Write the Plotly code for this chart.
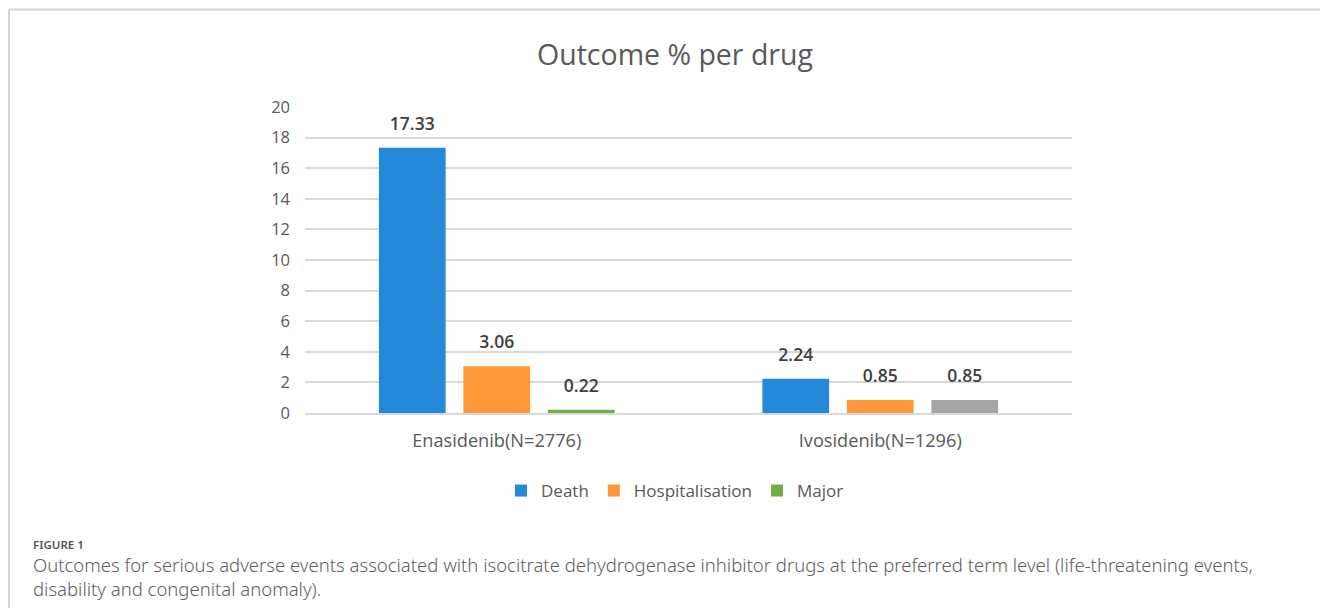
import plotly.graph_objects as go

categories = ["Enasidenib(N=2776)", "Ivosidenib(N=1296)"]
series_names = ["Death", "Hospitalisation", "Major"]
death = [17.33, 2.24]
hospitalisation = [3.06, 0.85]
major = [0.22, 0.85]
y_ticks = [0, 2, 4, 6, 8, 10, 12, 14, 16, 18, 20]

colors = {
    "Death": ["#2389D8", "#2389D8"],
    "Hospitalisation": ["#FF9638", "#FF9638"],
    "Major": ["#72AE48", "#A5A5A5"],
}

W, H = 1320, 608
L, T = 305, 107
R = W - 1072
B = H - 413
pw, ph = W - L - R, H - T - B

def px(x):
    return (x - L) / pw

def py(y):
    return (H - B - y) / ph

CHART_FONT = "Open Sans"

fig = go.Figure()
for i, (name, vals) in enumerate(zip(series_names, [death, hospitalisation, major])):
    fig.add_trace(go.Bar(
        x=categories, y=vals, name=name,
        marker=dict(color=colors[name], line=dict(width=0)),
        offsetgroup=str(i), alignmentgroup="a",
    ))
for i, (name, vals) in enumerate(zip(series_names, [death, hospitalisation, major])):
    fig.add_trace(go.Scatter(
        x=categories, y=vals, mode="markers+text", showlegend=False, hoverinfo="skip",
        text=[f"{v:.2f}" for v in vals], textposition="top center",
        marker=dict(size=20, color="rgba(0,0,0,0)"),
        textfont=dict(family=CHART_FONT, size=17.5, color="#404040", weight=600),
        offsetgroup=str(i), alignmentgroup="a", cliponaxis=False,
    ))

fig.update_layout(
    width=W, height=H,
    margin=dict(l=L, r=R, t=T, b=B),
    paper_bgcolor="white", plot_bgcolor="white",
    barmode="group", bargap=0.339, bargroupgap=0.21,
    scattermode="group", scattergap=0.339,
    font=dict(family=CHART_FONT, color="#595959"),
    showlegend=True,
    legend=dict(orientation="h", x=px(675), xanchor="center", y=py(491), yanchor="middle",
                font=dict(family=CHART_FONT, size=17, color="#595959"), itemwidth=30,
                traceorder="normal"),
    title=dict(text="Outcome % per drug", x=675 / W, xanchor="center",
               y=1 - 55 / H, yanchor="middle",
               font=dict(family=CHART_FONT, size=28.5, color="#595959")),
)
fig.update_yaxes(range=[0, 20], tickvals=y_ticks, showgrid=True, gridcolor="#D9D9D9", gridwidth=1.5,
                 zeroline=False, showline=False, ticks="", ticklabelstandoff=14,
                 tickfont=dict(family=CHART_FONT, size=16.5, color="#595959"))
fig.update_xaxes(showline=True, linecolor="#D9D9D9", linewidth=1.5, ticks="",
                 tickfont=dict(family=CHART_FONT, size=18.2, color="#595959"), ticklabelstandoff=10)

# frame
fig.add_shape(type="line", xref="paper", yref="paper", x0=px(9), x1=px(1330), y0=py(9.5), y1=py(9.5),
              line=dict(color="#D4D4D4", width=2))
fig.add_shape(type="line", xref="paper", yref="paper", x0=px(9), x1=px(9), y0=py(9.5), y1=py(620),
              line=dict(color="#D4D4D4", width=2))

CAP_FONT = "Noto Sans"
fig.add_annotation(text="FIGURE 1", xref="paper", yref="paper", x=px(31), y=py(544), xanchor="left",
                   yanchor="middle", showarrow=False,
                   font=dict(family=CAP_FONT, size=11.5, color="#555555", weight=600))
fig.add_annotation(text="Outcomes for serious adverse events associated with isocitrate dehydrogenase inhibitor drugs at the preferred term level (life-threatening events,<br>disability and congenital anomaly).",
                   xref="paper", yref="paper", x=px(31), y=py(576), xanchor="left", yanchor="middle",
                   align="left", showarrow=False,
                   font=dict(family=CAP_FONT, size=18.5, color="#5E5E5E", weight=300))

fig.write_html("out.html", config={"displayModeBar": False},
               post_script="document.body.style.margin='0';document.body.style.overflow='hidden';")
